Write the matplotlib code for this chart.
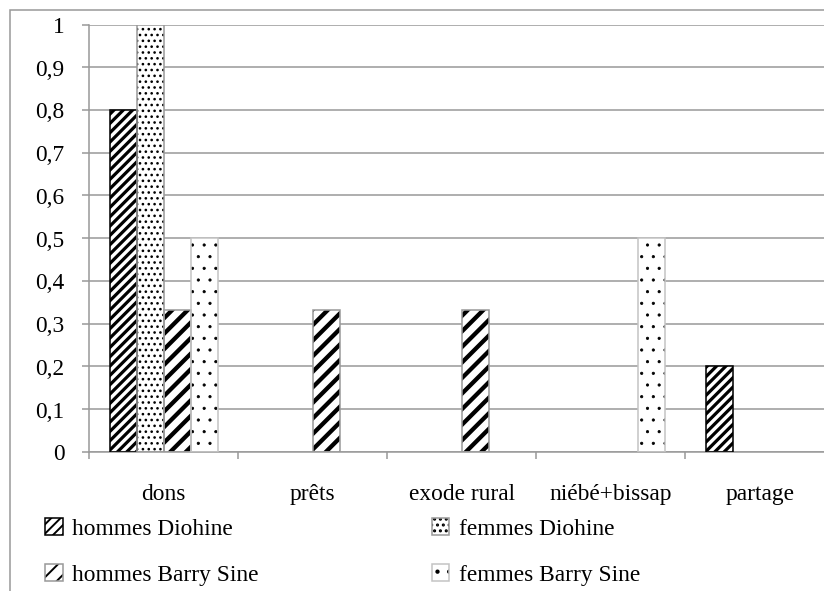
import numpy as np
import matplotlib
matplotlib.use('Agg')
import matplotlib.pyplot as plt
from matplotlib.patches import Rectangle
from matplotlib.legend_handler import HandlerTuple

# ---------------- data ----------------
categories = ['dons', 'prêts', 'exode rural', 'niébé+bissap', 'partage']
series_names = ['hommes Diohine', 'femmes Diohine', 'hommes Barry Sine', 'femmes Barry Sine']
hommes_diohine = [0.8, 0, 0, 0, 0.2]
femmes_diohine = [1.0, 0, 0, 0, 0]
hommes_barry_sine = [0.333, 0.333, 0.333, 0, 0]
femmes_barry_sine = [0.5, 0, 0, 0.5, 0]
y_ticks = [0, 0.1, 0.2, 0.3, 0.4, 0.5, 0.6, 0.7, 0.8, 0.9, 1.0]
y_tick_labels = ['0', '0,1', '0,2', '0,3', '0,4', '0,5', '0,6', '0,7', '0,8', '0,9', '1']

series_values = [hommes_diohine, femmes_diohine, hommes_barry_sine, femmes_barry_sine]

# ---------------- styles ----------------
DPI = 140
W, H = 824, 591
GRAY = '#9a9a9a'
hatches = ['/' * 5, '.' * 4, '/' * 3, '..']
hatch_lws = [1.65, 0.75, 2.2, 0.4]
edge_colors = ['black', GRAY, GRAY, '#c4c4c4']
FONT = 'Liberation Serif'
FS = 12

plt.rcParams['font.family'] = [FONT, 'DejaVu Serif']

fig = plt.figure(figsize=((W + 0.5) / DPI, (H + 0.5) / DPI), dpi=DPI)
ax = fig.add_axes([89 / W, 1 - 452 / H, (834 - 89) / W, (452 - 25) / H])

x = np.arange(len(categories))
n = len(series_values)
bw = 0.181

handles = []
for i, vals in enumerate(series_values):
    v = np.array(vals, dtype=float)
    v[v == 0] = np.nan
    off = (i - (n - 1) / 2) * bw
    with plt.rc_context({'hatch.linewidth': hatch_lws[i]}):
        b1 = ax.bar(x + off, v, bw, facecolor='white', edgecolor='black',
                    hatch=hatches[i], linewidth=0, zorder=2)
    for p in b1.patches:
        if hasattr(p, 'set_hatch_linewidth'):
            p.set_hatch_linewidth(hatch_lws[i])
    b2 = ax.bar(x + off, v, bw, fill=False, edgecolor=edge_colors[i],
                linewidth=0.8, zorder=3)
    handles.append((b1.patches[0], b2.patches[0]))

ax.set_xlim(-0.5, len(categories) - 0.5)
ax.set_ylim(0, 1)
ax.set_yticks(y_ticks)
ax.set_yticklabels(y_tick_labels, fontsize=FS)
ax.set_xticks(x)
ax.set_xticklabels(categories, fontsize=FS)
ax.set_xticks(np.arange(len(categories) + 1) - 0.5, minor=True)
ax.tick_params(axis='x', which='major', length=0, pad=16.5)
ax.tick_params(axis='x', which='minor', length=3.6, width=0.8, color=GRAY)
ax.tick_params(axis='y', which='major', length=3.6, width=0.8, color=GRAY, pad=9)
ax.set_axisbelow(True)
ax.yaxis.grid(True, color=GRAY, linewidth=0.8)
for s in ['top', 'right']:
    ax.spines[s].set_visible(False)
for s in ['left', 'bottom']:
    ax.spines[s].set_color(GRAY)
    ax.spines[s].set_linewidth(0.8)

# outer frame
fig.add_artist(Rectangle((10 / W, -0.5), 2, (1 - 10 / H) + 0.5,
                         transform=fig.transFigure, fill=False,
                         edgecolor=GRAY, linewidth=0.8))

# legend: column-major order -> row 1: hommes/femmes Diohine, row 2: Barry Sine
order = [0, 2, 1, 3]
fig.legend([handles[k] for k in order], [series_names[k] for k in order],
           loc='upper left',
           bbox_to_anchor=(45 / W, 1 - 518 / H), bbox_transform=fig.transFigure,
           ncol=2, frameon=False, handlelength=0.75, handleheight=0.75,
           handletextpad=0.4, columnspacing=7.43, labelspacing=1.05,
           borderpad=0, borderaxespad=0, fontsize=FS,
           handler_map={tuple: HandlerTuple(ndivide=1, pad=0)})

fig.savefig('out.png', dpi=DPI)
